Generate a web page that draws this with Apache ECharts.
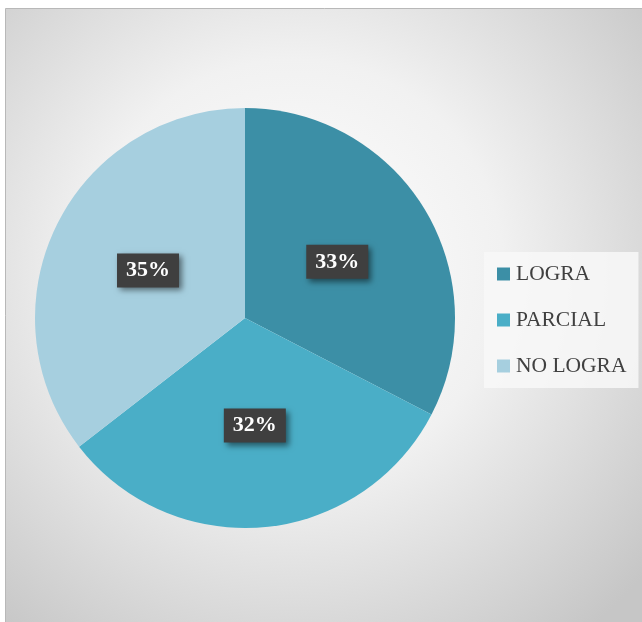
<!DOCTYPE html>
<html>
<head>
<meta charset="utf-8" />
<title>Logro</title>
<style>
  * { margin: 0; padding: 0; }
  body { background: #fff; }
  #chart { width: 642px; height: 622px; }
</style>
<script src="https://cdn.jsdelivr.net/npm/echarts@6/dist/echarts.min.js"></script>
</head>
<body>
<div id="chart"></div>
<script>
  // datos (angulos de los sectores)
  var categorias = ['LOGRA', 'PARCIAL', 'NO LOGRA'];
  var valores = [32.6, 31.9, 35.5];
  var colores = ['#3c8fa6', '#4aaec7', '#a6cfdf'];

  var datos = [];
  for (var i = 0; i < categorias.length; i++) {
    datos.push({ name: categorias[i], value: valores[i], itemStyle: { color: colores[i] } });
  }

  var oChart = echarts.init(document.getElementById('chart'));
  var opt = {
    backgroundColor: '#ffffff',
    animation: false,
    graphic: [{
      type: 'rect',
      z: -10,
      shape: { x: 5.5, y: 8.5, width: 640, height: 620 },
      style: {
        fill: new echarts.graphic.RadialGradient(0.45, 0.42, 0.75, [
          { offset: 0, color: '#ffffff' },
          { offset: 0.45, color: '#f1f1f1' },
          { offset: 1, color: '#c6c6c6' }
        ]),
        stroke: '#b8b8b8',
        lineWidth: 1
      }
    }],
    legend: {
      orient: 'vertical',
      left: 484,
      top: 252,
      padding: [11, 12, 11, 13],
      itemWidth: 13,
      itemHeight: 13,
      itemGap: 24,
      icon: 'rect',
      backgroundColor: 'rgba(248,248,248,0.85)',
      textStyle: {
        fontFamily: 'Liberation Serif',
        fontSize: 21.5,
        color: '#404040',
        padding: [0, 0, 0, 1]
      },
      data: categorias
    },
    series: [{
      type: 'pie',
      center: [245, 318],
      radius: 210,
      startAngle: 90,
      clockwise: true,
      percentPrecision: 0,
      data: datos,
      label: {
        show: true,
        position: 'inside',
        formatter: '{d}%',
        fontFamily: 'Liberation Serif',
        fontWeight: 'bold',
        fontSize: 22,
        color: '#ffffff',
        backgroundColor: '#3f3f3f',
        padding: [7, 9, 5, 9],
        shadowColor: 'rgba(0,0,0,0.5)',
        shadowBlur: 6,
        shadowOffsetX: 3,
        shadowOffsetY: 3
      },
      labelLine: { show: false },
      emphasis: { disabled: true }
    }]
  };
  oChart.setOption(opt);
</script>
</body>
</html>
